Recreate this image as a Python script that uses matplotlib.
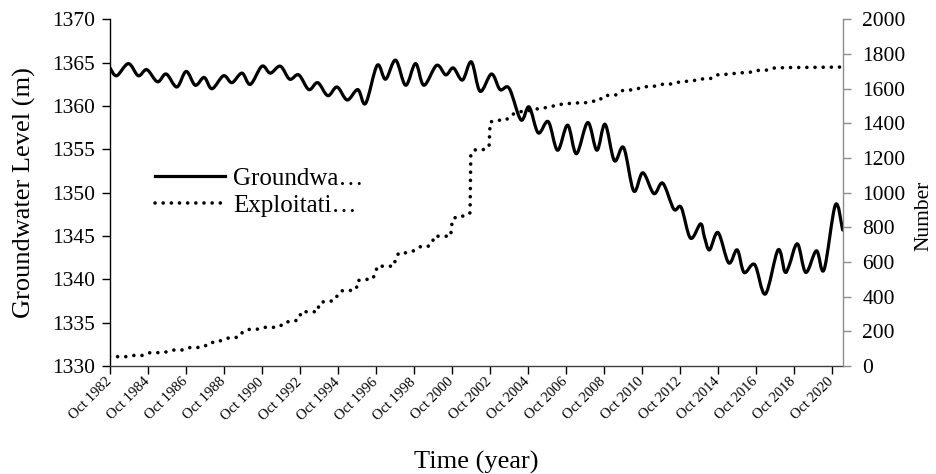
import matplotlib
matplotlib.use("Agg")
import matplotlib.pyplot as plt
import numpy as np
from matplotlib.path import Path
from matplotlib.patches import PathPatch
from matplotlib.lines import Line2D
from matplotlib.transforms import ScaledTranslation

plt.rcParams['font.family'] = ['Liberation Serif', 'DejaVu Serif']

# Groundwater level (m), read at annual troughs/peaks (decimal year)
gw_time = [1982.80, 1983.15, 1983.77, 1984.29, 1984.74, 1985.30, 1985.76, 1986.32,
           1986.81, 1987.29, 1987.76, 1988.17, 1988.78, 1989.22, 1989.75, 1990.19,
           1990.80, 1991.24, 1991.77, 1992.26, 1992.74, 1993.27, 1993.74, 1994.27,
           1994.76, 1995.29, 1995.85, 1996.26, 1996.87, 1997.31, 1997.84, 1998.37,
           1998.89, 1999.33, 2000.00, 2000.48, 2000.88, 2001.36, 2001.83, 2002.29,
           2002.89, 2003.34, 2003.82, 2004.44, 2004.87, 2005.35, 2005.88, 2006.37,
           2006.90, 2007.36, 2007.96, 2008.44, 2008.87, 2009.36, 2009.85, 2010.38,
           2010.86, 2011.44, 2011.91, 2012.49, 2012.88, 2013.37, 2013.90, 2014.10,
           2014.37, 2014.82, 2015.38, 2015.83, 2016.19, 2016.75, 2017.31, 2017.98,
           2018.33, 2018.55, 2019.00, 2019.44, 2020.00, 2020.40, 2021.00, 2021.38]
gw_level = [1364.4, 1363.5, 1364.9, 1363.5, 1364.2, 1362.8, 1363.7, 1362.2,
            1364.0, 1362.4, 1363.3, 1362.0, 1363.5, 1362.7, 1363.8, 1362.5,
            1364.6, 1363.8, 1364.6, 1363.1, 1363.6, 1361.9, 1362.7, 1361.2,
            1362.2, 1360.7, 1361.9, 1360.3, 1364.7, 1363.1, 1365.3, 1362.4,
            1364.9, 1362.4, 1364.7, 1363.6, 1364.4, 1363.0, 1365.1, 1361.7,
            1363.7, 1361.9, 1362.05, 1358.4, 1359.9, 1356.9, 1358.2, 1354.9,
            1357.8, 1354.5, 1358.1, 1354.9, 1357.9, 1353.7, 1355.2, 1350.2,
            1352.3, 1349.9, 1351.1, 1348.1, 1348.3, 1344.75, 1346.4, 1344.9,
            1343.4, 1345.4, 1341.9, 1343.4, 1340.8, 1341.7, 1338.3, 1343.4,
            1340.9, 1341.5, 1344.1, 1340.8, 1343.3, 1341.1, 1348.6, 1345.7]

# Exploitation wells (number)
ex_time = [1982.77, 1983.68, 1984.07, 1984.52, 1984.91, 1985.35, 1985.76, 1986.14,
           1986.58, 1986.93, 1987.34, 1987.76, 1988.04, 1988.43, 1988.78, 1989.17,
           1989.57, 1989.80, 1990.10, 1990.50, 1990.93, 1991.39, 1991.73, 1992.03,
           1992.44, 1992.77, 1992.86, 1993.74, 1993.81, 1994.15, 1994.58, 1994.76,
           1994.97, 1995.38, 1995.78, 1995.82, 1996.17, 1996.61, 1996.78, 1996.87,
           1997.75, 1997.84, 1998.01, 1998.42, 1998.77, 1999.12, 1999.51, 1999.77,
           1999.86, 2000.30, 2000.74, 2000.78, 2000.83, 2001.10, 2001.53, 2001.76,
           2001.80, 2002.06, 2002.47, 2002.76, 2002.82, 2003.20, 2003.65, 2003.90,
           2004.30, 2004.60, 2004.96, 2005.35, 2005.70, 2006.10, 2006.46, 2006.90,
           2007.34, 2007.78, 2008.13, 2008.55, 2008.80, 2009.50, 2009.80, 2010.50,
           2010.80, 2011.50, 2011.80, 2012.50, 2012.80, 2013.50, 2013.80, 2014.50,
           2014.80, 2015.50, 2015.80, 2016.50, 2016.80, 2017.50, 2017.80, 2018.50,
           2021.38]
ex_count = [54, 54, 61, 61, 77, 77, 81, 92,
            92, 106, 106, 111, 136, 136, 154, 165,
            165, 198, 211, 211, 223, 223, 227, 255,
            255, 271, 313, 313, 361, 375, 375, 404,
            434, 434, 444, 492, 500, 500, 534, 576,
            576, 620, 653, 653, 664, 688, 688, 707,
            749, 749, 749, 797, 845, 865, 865, 884,
            1226, 1249, 1249, 1264, 1408, 1418, 1418, 1447,
            1466, 1470, 1475, 1485, 1490, 1499, 1509, 1514,
            1518, 1518, 1527, 1530, 1560, 1565, 1590, 1595,
            1610, 1615, 1625, 1628, 1640, 1645, 1655, 1660,
            1680, 1685, 1690, 1695, 1705, 1708, 1720, 1722,
            1725]

tick_years = list(range(1982, 2021, 2))
tick_labels = [f"Oct {y}" for y in tick_years]
tick_pos = [y + 0.8 for y in tick_years]


def smooth_path(xs, ys):
    """Excel-style smoothed line: cubic Bezier through the data points."""
    pts = np.column_stack([xs, ys]).astype(float)
    n = len(pts)
    verts = [pts[0]]
    codes = [Path.MOVETO]
    for i in range(n - 1):
        p0 = pts[i - 1] if i > 0 else pts[i]
        p1 = pts[i]
        p2 = pts[i + 1]
        p3 = pts[i + 2] if i + 2 < n else pts[i + 1]
        c1 = p1 + (p2 - p0) / 6.0
        c2 = p2 - (p3 - p1) / 6.0
        verts += [c1, c2, p2]
        codes += [Path.CURVE4] * 3
    return Path(verts, codes)


fig = plt.figure(figsize=(9.36, 4.74), dpi=100)
ax = fig.add_axes([110 / 936, 1 - 366 / 474, (843 - 110) / 936, (366 - 19.4) / 474])
ax2 = ax.twinx()

ax.set_xlim(1982.8, 2021.4)
ax.set_ylim(1330, 1370)
ax2.set_ylim(0, 2000)

# groundwater smoothed line (left axis)
ax.add_patch(PathPatch(smooth_path(gw_time, gw_level), fill=False, lw=2.3,
                       edgecolor='black', transform=ax.transData, zorder=3,
                       capstyle='round', joinstyle='round'))
# exploitation dotted line (right axis)
ax2.plot(ex_time, ex_count, color='black', lw=2.6, linestyle=(0, (0.01, 2.25)),
         dash_capstyle='round', zorder=3)

ax.set_yticks(np.arange(1330, 1371, 5))
ax2.set_yticks(np.arange(0, 2001, 200))
ax.set_xticks(tick_pos)
ax.set_xticklabels(tick_labels, rotation=45, ha='right', va='center',
                   rotation_mode='anchor', fontsize=10.5)
for lab in ax.get_xticklabels():
    lab.set_transform(lab.get_transform() + ScaledTranslation(0.13, -0.04, fig.dpi_scale_trans))

for s in ['top']:
    ax.spines[s].set_visible(False)
    ax2.spines[s].set_visible(False)
ax.spines['right'].set_visible(False)
ax2.spines['left'].set_visible(False)
ax2.spines['bottom'].set_visible(False)
ax.spines['left'].set_color('black')
ax.spines['bottom'].set_color('#404040')
ax2.spines['right'].set_color('#8c8c8c')
for a in (ax, ax2):
    for sp in a.spines.values():
        sp.set_linewidth(1.0)

ax.tick_params(axis='y', direction='out', length=6, width=1.0, labelsize=15.5, pad=5, color='black')
ax.tick_params(axis='x', direction='out', length=6, width=1.0, pad=4, color='black')
ax2.tick_params(axis='y', direction='out', length=6, width=1.0, labelsize=15.5, pad=8,
                color='#8c8c8c')

ax.set_ylabel('Groundwater Level (m)', fontsize=19, labelpad=11)
ax2.set_ylabel('Number', fontsize=15.5)
ax2.yaxis.set_label_coords(1.097, 0.433)
ax.set_xlabel('Time (year)', fontsize=19)
ax.xaxis.set_label_coords(0.5, -0.244)

handles = [Line2D([], [], color='black', lw=2.3),
           Line2D([], [], color='black', lw=2.6, linestyle=(0, (0.01, 2.25)),
                  dash_capstyle='round')]
ax.legend(handles, ['Groundwa…', 'Exploitati…'], loc='upper left',
          bbox_to_anchor=(0.045, 0.61), frameon=False, fontsize=18,
          handlelength=2.8, handletextpad=0.3, labelspacing=0.2, borderpad=0)

fig.savefig('out.png', dpi=100)
